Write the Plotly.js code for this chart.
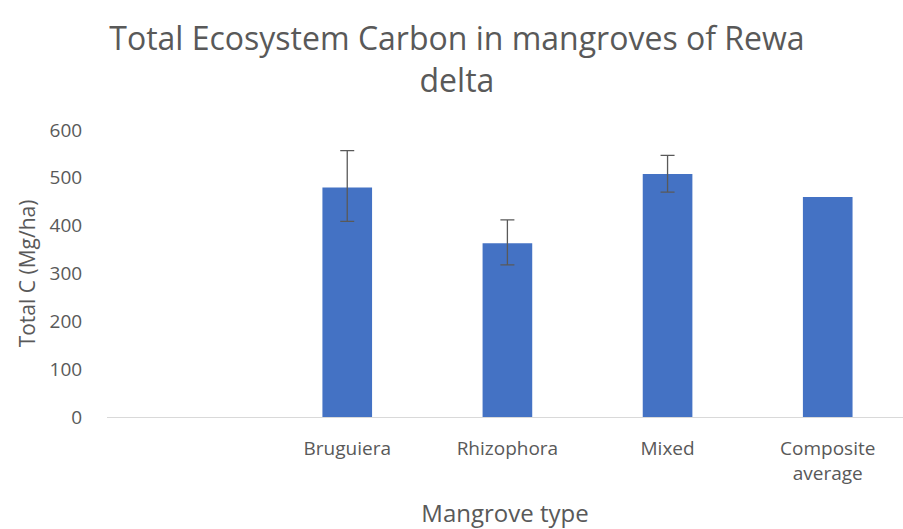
<!DOCTYPE html>
<html>
<head>
<meta charset="utf-8">
<script src="https://cdn.plot.ly/plotly-3.0.1.min.js"></script>
<style>html,body{margin:0;padding:0;background:#fff;}#chart{width:903px;height:529px;}</style>
</head>
<body>
<div id="chart"></div>
<script>
var categories = ["", "Bruguiera", "Rhizophora", "Mixed", "Composite<br>average"];
var totalCarbon = [null, 480, 363, 508, 460];
var errorPlus = [null, 77, 49, 39, null];
var errorMinus = [null, 71, 45, 38, null];
var yTicks = [0, 100, 200, 300, 400, 500, 600];

// bars with error bars (all categories except the composite)
var withErr = {
  type: "bar",
  x: categories.slice(0, 4),
  y: totalCarbon.slice(0, 4),
  marker: {color: "#4472C4"},
  error_y: {
    type: "data",
    symmetric: false,
    array: errorPlus.slice(0, 4),
    arrayminus: errorMinus.slice(0, 4),
    color: "#595959",
    thickness: 1.3,
    width: 7
  },
  hoverinfo: "skip"
};
// composite average bar (no error bar)
var composite = {
  type: "bar",
  x: categories.slice(4),
  y: totalCarbon.slice(4),
  marker: {color: "#4472C4"},
  hoverinfo: "skip"
};

var layout = {
  width: 903,
  height: 529,
  margin: {l: 107, r: 0, t: 130, b: 112},
  paper_bgcolor: "#fff",
  plot_bgcolor: "#fff",
  barmode: "overlay",
  bargap: 0.69,
  showlegend: false,
  font: {family: "Open Sans, sans-serif", color: "#595959"},
  title: {
    text: "Total Ecosystem Carbon in mangroves of Rewa<br>delta",
    font: {size: 32, color: "#595959", family: "Open Sans, sans-serif"},
    x: 0.506, xanchor: "center", xref: "container",
    y: 0.905, yanchor: "top", yref: "container"
  },
  xaxis: {
    type: "category",
    categoryorder: "array",
    categoryarray: categories,
    range: [-0.5, 4.47],
    showline: true,
    linecolor: "#d9d9d9",
    linewidth: 1,
    ticks: "outside",
    ticklen: 14,
    tickcolor: "rgba(0,0,0,0)",
    showgrid: false,
    zeroline: false,
    tickfont: {size: 19, color: "#595959"},
    title: {text: "Mangrove type", font: {size: 24, color: "#595959"}, standoff: 27}
  },
  yaxis: {
    range: [0, 600],
    tickvals: yTicks,
    showgrid: false,
    zeroline: false,
    showline: false,
    ticks: "outside",
    ticklen: 20,
    tickcolor: "rgba(0,0,0,0)",
    tickfont: {size: 19, color: "#595959"},
    title: {text: "Total C (Mg/ha)", font: {size: 21, color: "#595959"}, standoff: 8}
  }
};

Plotly.newPlot("chart", [withErr, composite], layout, {displayModeBar: false, staticPlot: true});
</script>
</body>
</html>
